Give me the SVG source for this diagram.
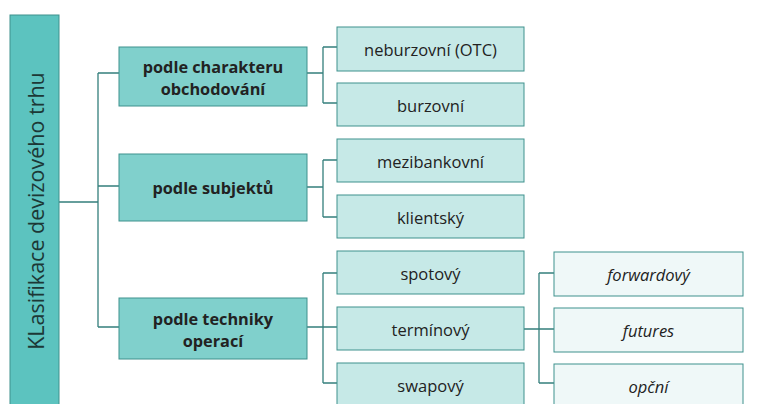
<svg xmlns="http://www.w3.org/2000/svg" width="760" height="404" viewBox="0 0 760 404">
<style>
.bar{fill:#5cc3bf;stroke:#3f918d;stroke-width:1}
.l2{fill:#80d0cc;stroke:#3f918d;stroke-width:1}
.l3{fill:#c6e9e7;stroke:#3f918d;stroke-width:1}
.l4{fill:#eff8f8;stroke:#3f918d;stroke-width:1}
.t{font-family:"Open Sans","Liberation Sans",sans-serif;fill:#222222;text-anchor:middle}
.b{font-weight:bold;font-size:16.3px}
.r{font-size:16.5px}
.i{font-size:16.5px;font-style:italic}
.c{fill:none;stroke:#347f7c;stroke-width:1.3}
</style>
<rect width="760" height="404" fill="#ffffff"/>
<g id="connectors">
<path class="c" d="M59,202 H98 M98,73 V327 M98,73 H119 M98,186 H119 M98,327 H119"/>
<path class="c" d="M307,73 H323 M323,47 V103 M323,47 H337 M323,103 H337"/>
<path class="c" d="M307,187 H323 M323,160 V217 M323,160 H337 M323,217 H337"/>
<path class="c" d="M307,327 H337 M323,273 V383 M323,273 H337 M323,383 H337"/>
<path class="c" d="M524,329 H554 M539,273 V383 M539,273 H554 M539,383 H554"/>
</g>
<g id="root">
<rect class="bar" x="10" y="15" width="49" height="395"/>
<text class="t" transform="translate(44,211) rotate(-90)" style="font-size:21.5px;fill:#1c3836">KLasifikace devizového trhu</text>
</g>
<g id="charakter">
<rect class="l2" x="119" y="47" width="188" height="59"/>
<text class="t b" x="213" y="73">podle charakteru</text>
<text class="t b" x="213" y="95">obchodování</text>
</g>
<g id="subjekt">
<rect class="l2" x="119" y="154" width="188" height="67"/>
<text class="t b" x="213" y="193.5">podle subjektů</text>
</g>
<g id="technika">
<rect class="l2" x="119" y="298" width="188" height="61"/>
<text class="t b" x="213" y="325">podle techniky</text>
<text class="t b" x="213" y="347">operací</text>
</g>
<g id="neburzovni">
<rect class="l3" x="337" y="27" width="187" height="44"/>
<text class="t r" x="430.5" y="56">neburzovní (OTC)</text>
</g>
<g id="burzovni">
<rect class="l3" x="337" y="83" width="187" height="43"/>
<text class="t r" x="430.5" y="112">burzovní</text>
</g>
<g id="mezibankovni">
<rect class="l3" x="337" y="139" width="187" height="43"/>
<text class="t r" x="430.5" y="168">mezibankovní</text>
</g>
<g id="klientsky">
<rect class="l3" x="337" y="195" width="187" height="43"/>
<text class="t r" x="430.5" y="224">klientský</text>
</g>
<g id="spotovy">
<rect class="l3" x="337" y="251" width="187" height="43"/>
<text class="t r" x="430.5" y="280">spotový</text>
</g>
<g id="terminovy">
<rect class="l3" x="337" y="307" width="187" height="43"/>
<text class="t r" x="430.5" y="336">termínový</text>
</g>
<g id="swapovy">
<rect class="l3" x="337" y="363" width="187" height="50"/>
<text class="t r" x="430.5" y="392">swapový</text>
</g>
<g id="forwardovy">
<rect class="l4" x="554" y="252" width="189" height="44"/>
<text class="t i" x="648.5" y="281">forwardový</text>
</g>
<g id="futures">
<rect class="l4" x="554" y="308" width="189" height="44"/>
<text class="t i" x="648.5" y="337">futures</text>
</g>
<g id="opcni">
<rect class="l4" x="554" y="364" width="189" height="50"/>
<text class="t i" x="648.5" y="393">opční</text>
</g>
</svg>
